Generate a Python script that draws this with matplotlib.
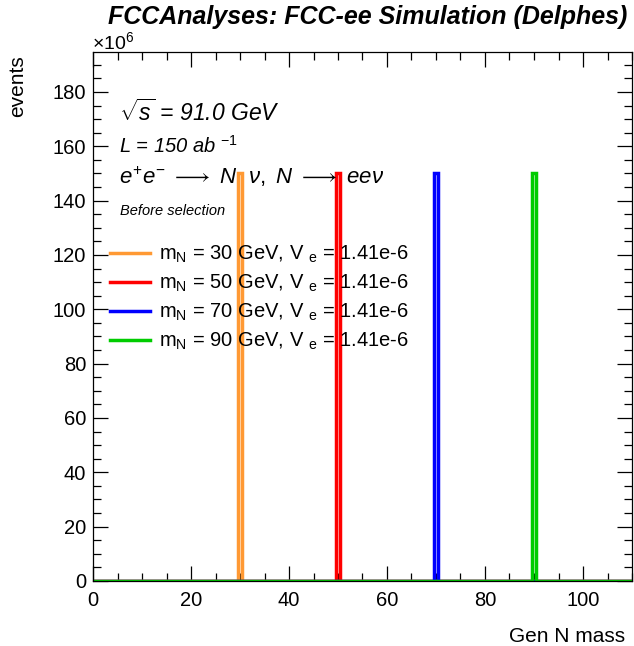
import numpy as np
import matplotlib
matplotlib.use("Agg")
import matplotlib.pyplot as plt
from matplotlib.ticker import MultipleLocator
from matplotlib.lines import Line2D

# data (events in units of 1e6)
masses = [30, 50, 70, 90]
peak_events = [150, 150, 150, 150]
colors = ["#ff9933", "#ff0000", "#0000ff", "#00cc00"]
labels = [r"m$_{\rm N}$ = %d GeV, V $_{\rm e}$ = 1.41e-6" % m for m in masses]
edges = np.arange(-0.5, 111.0, 1.0)

plt.rcParams["font.family"] = ["Liberation Sans", "DejaVu Sans"]
plt.rcParams["mathtext.fontset"] = "custom"
plt.rcParams["mathtext.rm"] = "Liberation Sans"
plt.rcParams["mathtext.it"] = "Liberation Sans:italic"
plt.rcParams["mathtext.bf"] = "Liberation Sans:bold"

W, H = 634, 646
fig = plt.figure(figsize=(W / 100, H / 100), dpi=100)
ax = fig.add_axes([93 / W, 1 - 581 / H, 539 / W, 529 / H])

def px(x, y):
    return x / W, 1 - y / H

for m, n, c in zip(masses, peak_events, colors):
    ax.hist([m], bins=edges, weights=[n], histtype="step", color=c, lw=2.5)

ax.set_xlim(0, 110)
ax.set_ylim(0, 194.7)
ax.xaxis.set_major_locator(MultipleLocator(20))
ax.xaxis.set_minor_locator(MultipleLocator(5))
ax.yaxis.set_major_locator(MultipleLocator(20))
ax.yaxis.set_minor_locator(MultipleLocator(5))
ax.tick_params(which="both", direction="in", top=True, right=True, labelsize=14.5, width=0.9)
ax.tick_params(which="major", length=11)
ax.tick_params(which="minor", length=6)
ax.tick_params(axis="x", pad=7)
ax.tick_params(axis="y", pad=5)
for s in ax.spines.values():
    s.set_linewidth(0.9)

fig.text(*px(627, 17), "FCCAnalyses: FCC-ee Simulation (Delphes)", ha="right", va="center",
         fontsize=18, fontweight="bold", style="italic")
fig.text(*px(92, 42), r"$\times$10$^{6}$", ha="left", va="center", fontsize=14)
fig.text(*px(18, 55), "events", rotation=90, ha="center", va="top", fontsize=15)
fig.text(*px(625, 636), "Gen N mass", ha="right", va="center", fontsize=15)

fig.text(*px(119, 113), r"$\sqrt{s}$ = 91.0 GeV", ha="left", va="center", fontsize=16.5, style="italic")
fig.text(*px(119, 146), r"L = 150 ab $^{-1}$", ha="left", va="center", fontsize=14.5, style="italic")
fig.text(*px(119, 177), r"$e^{+}e^{-}\ \longrightarrow\ N\ \ \nu,\ N\ \longrightarrow\ ee\nu$",
         ha="left", va="center", fontsize=16)
fig.text(*px(120, 211), "Before selection", ha="left", va="center", fontsize=10.5, style="italic")

handles = [Line2D([], [], color=c, lw=2.5) for c in colors]
leg = ax.legend(handles, labels, loc="upper left", bbox_to_anchor=(px(102, 236)),
                bbox_transform=fig.transFigure, frameon=False, fontsize=14.5, handlelength=2.0,
                handletextpad=0.45, labelspacing=0.38, borderaxespad=0)

fig.savefig("out.png", dpi=100)
